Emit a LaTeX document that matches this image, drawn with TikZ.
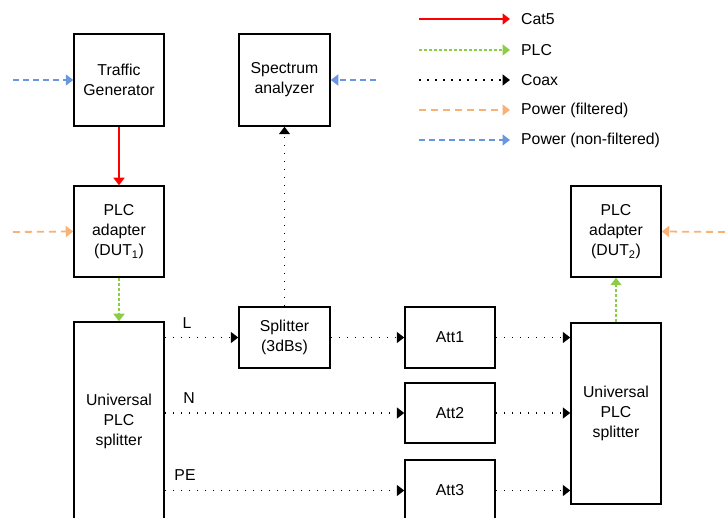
\documentclass[tikz,border=0pt]{standalone}
\usepackage{fontspec}
\setmainfont{Liberation Sans}
\usetikzlibrary{arrows.meta}
\definecolor{catred}{RGB}{255,0,0}
\definecolor{plcgreen}{RGB}{140,205,70}
\definecolor{pwrorange}{RGB}{248,178,120}
\definecolor{pwrblue}{RGB}{105,150,222}
\tikzset{
  box/.style={draw=black, line width=1.5pt, inner sep=0pt, align=center,
    font=\fontsize{15.8}{20}\selectfont},
  tip/.style={-{Triangle[length=7.5pt,width=11pt]}},
  cat5/.style={tip, draw=catred, line width=1.7pt},
  plc/.style={tip, draw=plcgreen, line width=1.8pt, dash pattern=on 3pt off 2pt},
  coax/.style={tip, draw=black, line width=1.7pt, dash pattern=on 1.6pt off 6.4pt},
  pwrf/.style={tip, draw=pwrorange, line width=1.8pt, dash pattern=on 7pt off 5pt},
  pwrn/.style={tip, draw=pwrblue, line width=1.8pt, dash pattern=on 6pt off 4pt},
  lbl/.style={font=\fontsize{15.8}{20}\selectfont, inner sep=0pt},
}
\begin{document}
\begin{tikzpicture}[x=1pt, y=-1pt]
\useasboundingbox (0,0) rectangle (725,518);

% equipment boxes
\node[box, minimum width=90pt, minimum height=92pt] (tg) at (119,80) {Traffic\\Generator};
\node[box, minimum width=91pt, minimum height=92pt] (spec) at (284.5,80) {Spectrum\\analyzer};
\node[box, minimum width=90pt, minimum height=91pt] (dut1) at (119,231.5) {PLC\\adapter\\(DUT\textsubscript{1})};
\node[box, minimum width=90pt, minimum height=91pt] (dut2) at (616,231.5) {PLC\\adapter\\(DUT\textsubscript{2})};
\node[box, minimum width=90pt, minimum height=198pt] (lsplit) at (119,421) {Universal\\PLC\\splitter};
\node[box, minimum width=90pt, minimum height=181pt] (rsplit) at (616,413.5) {Universal\\PLC\\splitter};
\node[box, minimum width=91pt, minimum height=61pt] (split) at (284.5,337.5) {Splitter\\(3dBs)};
\node[box, minimum width=90pt, minimum height=61pt] (att1) at (450,337.5) {Att1};
\node[box, minimum width=90pt, minimum height=60pt] (att2) at (450,413) {Att2};
\node[box, minimum width=90pt, minimum height=61pt] (att3) at (450,490.5) {Att3};

% line labels
\node[lbl] (lL) at (187,323) {L};
\node[lbl] (lN) at (189,398) {N};
\node[lbl] (lPE) at (185,475) {PE};

% free ends of the power feeds
\coordinate (ptg) at (13,80);
\coordinate (pspec) at (376,80);
\coordinate (pdut1) at (13,232);
\coordinate (pdut2) at (725,232);

% connections
\draw[cat5] (tg.south) -- (dut1.north);
\draw[plc] (dut1.south) -- (lsplit.north);
\draw[plc] (rsplit.north) -- (dut2.south);
\draw[coax] (lsplit.east |- split.west) -- (split.west);
\draw[coax] (split.east) -- (att1.west);
\draw[coax] (split.north) -- (spec.south);
\draw[coax] (lsplit.east |- att2.west) -- (att2.west);
\draw[coax] (lsplit.east |- att3.west) -- (att3.west);
\draw[coax] (att1.east) -- (rsplit.west |- att1.east);
\draw[coax] (att2.east) -- (rsplit.west |- att2.east);
\draw[coax] (att3.east) -- (rsplit.west |- att3.east);
\draw[pwrn] (ptg) -- (tg.west);
\draw[pwrn] (pspec) -- (spec.east);
\draw[pwrf] (pdut1) -- (dut1.west);
\draw[pwrf] (pdut2) -- (dut2.east);

% legend
\foreach \sty/\txt/\yy/\nm in {cat5/Cat5/19/a, plc/PLC/50/b, coax/Coax/80/c,
    pwrf/Power (filtered)/110/d, pwrn/Power (non-filtered)/140/e}{
  \coordinate (k\nm) at (419,\yy);
  \node[lbl, anchor=west] (t\nm) at (521,\yy) {\txt};
  \draw[\sty] (k\nm) -- ([xshift=-11pt]t\nm.west);
}
\end{tikzpicture}
\end{document}
